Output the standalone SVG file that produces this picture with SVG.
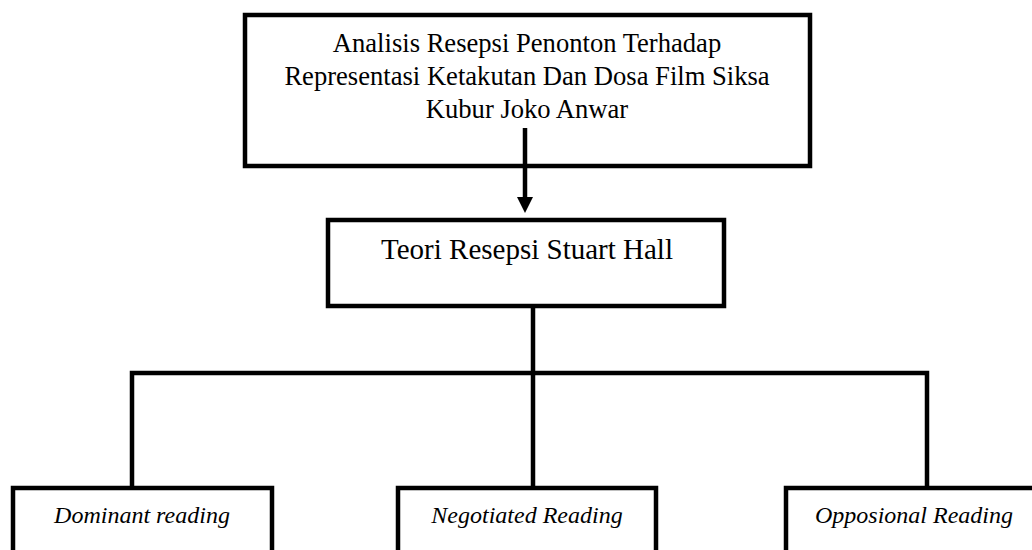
<svg xmlns="http://www.w3.org/2000/svg" width="1032" height="550" viewBox="0 0 1032 550">
<style>
.box{fill:#fff;stroke:#000;stroke-width:4.5}
.t{font-family:"Liberation Serif","Times New Roman",serif;fill:#000;text-anchor:middle}
.i{font-style:italic}
.c{fill:none;stroke:#000;stroke-width:4.5}
</style>
<rect width="1032" height="550" fill="#fff"/>
<g id="top">
<rect class="box" x="245" y="15" width="565" height="151"/>
<text class="t" font-size="26.6" x="527" y="52">Analisis Resepsi Penonton Terhadap</text>
<text class="t" font-size="26.6" x="527" y="85">Representasi Ketakutan Dan Dosa Film Siksa</text>
<text class="t" font-size="26.6" x="527" y="118">Kubur Joko Anwar</text>
</g>
<g id="teori">
<rect class="box" x="328" y="220" width="396" height="86"/>
<text class="t" font-size="29" x="527" y="259">Teori Resepsi Stuart Hall</text>
</g>
<g id="dominant">
<rect class="box" x="13" y="488" width="259" height="80"/>
<text class="t i" font-size="24" x="142" y="523">Dominant reading</text>
</g>
<g id="negotiated">
<rect class="box" x="398" y="488" width="258" height="80"/>
<text class="t i" font-size="24" x="527" y="523">Negotiated Reading</text>
</g>
<g id="opposional">
<rect class="box" x="786" y="488" width="260" height="80"/>
<text class="t i" font-size="24" x="914" y="523">Opposional Reading</text>
</g>
<g id="connectors">
<line class="c" x1="525" y1="128" x2="525" y2="198"/>
<path d="M517,197 L533,197 L525,213 Z" fill="#000"/>
<path class="c" d="M533,306 V373 M132,488 V373 H927 V488 M533,373 V488"/>
</g>
</svg>
